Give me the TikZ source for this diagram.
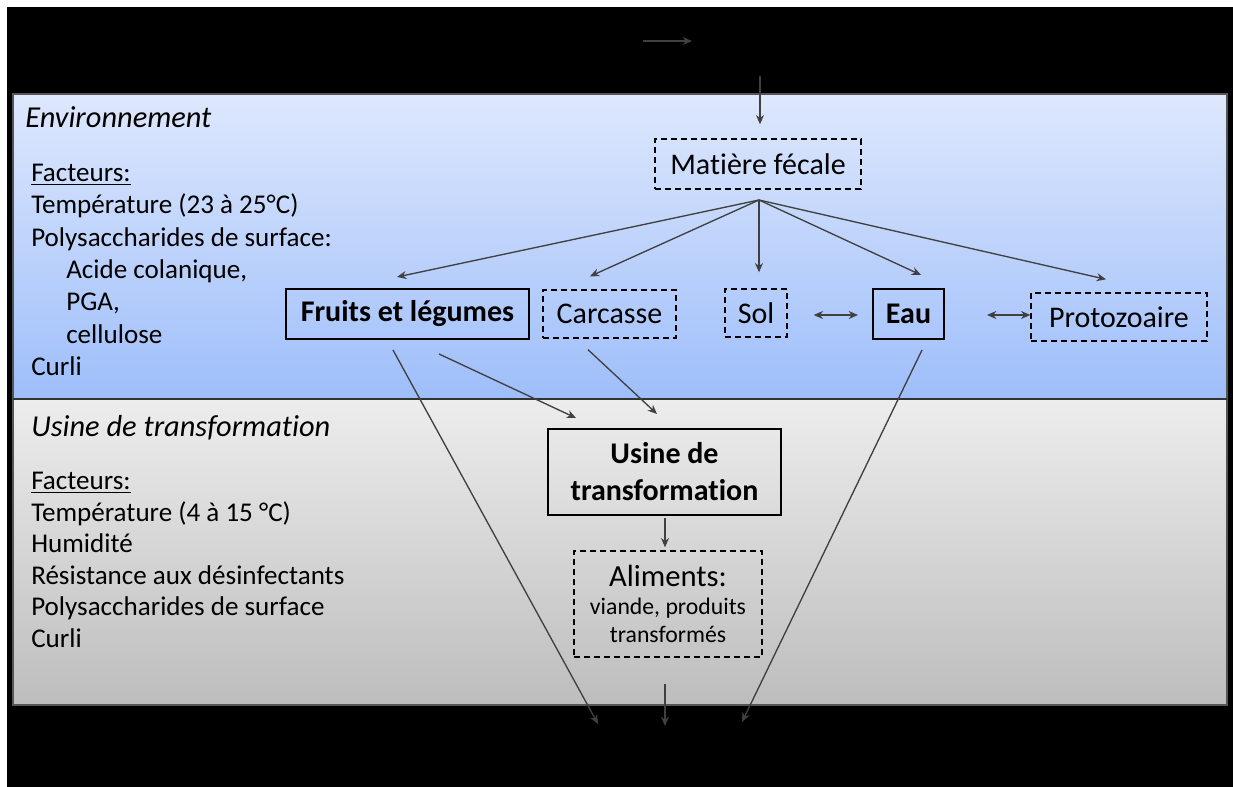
\documentclass[tikz,border=0pt]{standalone}
\usepackage{fontspec}
\setmainfont{Carlito}[Ligatures={NoCommon,NoRare,NoContextual}]
\usetikzlibrary{arrows.meta,calc}
\definecolor{arr}{HTML}{404040}
\definecolor{envtop}{HTML}{DEE8FD}
\definecolor{envbot}{HTML}{9EBEFA}
\definecolor{usitop}{HTML}{EDEDED}
\definecolor{usibot}{HTML}{BDBDBD}
\definecolor{panelline}{HTML}{555555}
\begin{document}
\begin{tikzpicture}[x=0.75pt,y=-0.75pt,
  solidbox/.style={draw=black,line width=1.5pt,inner sep=0pt,align=center},
  dashbox/.style={draw=black,line width=1pt,dash pattern=on 4.5pt off 3pt,inner sep=0pt,align=center},
  boxfont/.style={font=\fontsize{22.5}{26}\selectfont},
  boldfont/.style={font=\fontsize{22.5}{27.75}\selectfont\bfseries},
  listtext/.style={anchor=base west,inner sep=0pt,font=\fontsize{20.3}{24}\selectfont},
  titletext/.style={anchor=base west,inner sep=0pt,font=\fontsize{22.8}{26}\selectfont\itshape},
  conn/.style={draw=arr,line width=1pt,-{Stealth[length=7pt,width=6pt]}},
  dconn/.style={draw=arr,line width=1pt,{Stealth[length=7pt,width=6pt]}-{Stealth[length=7pt,width=6pt]}}]
\useasboundingbox (0,0) rectangle (1233,787);
\fill[white] (0,0) rectangle (1233,787);
\fill[black] (7,7) rectangle (1233,787);
% panels
\shade[top color=envtop,bottom color=envbot] (13,94) rectangle (1227,399);
\shade[top color=usitop,bottom color=usibot] (13,399) rectangle (1227,705);
\draw[panelline,line width=1pt] (13,94) rectangle (1227,399);
\draw[panelline,line width=1pt] (13,399) rectangle (1227,705);
\draw[black!80,line width=1pt] (13,399) -- (1227,399);

% left texts
\node[titletext] (envtitle) at (25,128) {Environnement};
\node[listtext] (envf) at (31,182) {\underline{Facteurs:}};
\node[listtext] (envt) at (31,214) {Température (23 à 25°C)};
\node[listtext] (envp) at (31,246.5) {Polysaccharides de surface:};
\node[listtext] (enva) at (66,279) {Acide colanique,};
\node[listtext] (envg) at (66,311) {PGA,};
\node[listtext] (envc) at (66,343.5) {cellulose};
\node[listtext] (envcu) at (31,375.5) {Curli};

\node[titletext] (usititle) at (31,437) {Usine de transformation};
\node[listtext] (usif) at (31,490) {\underline{Facteurs:}};
\node[listtext] (usit) at (31,521.5) {Température (4 à 15 °C)};
\node[listtext] (usih) at (31,553) {Humidité};
\node[listtext] (usir) at (31,584.5) {Résistance aux désinfectants};
\node[listtext] (usip) at (31,616) {Polysaccharides de surface};
\node[listtext] (usic) at (31,647.5) {Curli};

% boxes
\node[dashbox,boxfont,minimum width=154.5pt,minimum height=37.5pt] (mf) at (758,164) {Matière fécale};
\node[solidbox,boldfont,minimum width=182.25pt,minimum height=37.5pt] (fr) at (407.5,314) {Fruits et légumes};
\node[dashbox,boxfont,minimum width=99.75pt,minimum height=36pt] (ca) at (609.5,314) {Carcasse};
\node[dashbox,boxfont,minimum width=46.5pt,minimum height=36pt] (so) at (756,313) {Sol};
\node[solidbox,boldfont,minimum width=53.25pt,minimum height=37.5pt] (ea) at (908.5,314) {Eau};
\node[dashbox,boxfont,minimum width=132pt,minimum height=36pt] (pr) at (1119,317) {Protozoaire};
\node[solidbox,boldfont,minimum width=174.75pt,minimum height=64.5pt] (us) at (664.5,472) {Usine de\\transformation};
\node[dashbox,font=\fontsize{17.8}{21}\selectfont,minimum width=141pt,minimum height=79.5pt] (al) at (668,604) {{\fontsize{23}{21}\selectfont Aliments:}\\viande, produits\\transformés};

% free coordinates
\coordinate (topa) at (643,41);
\coordinate (topb) at (692,41);
\coordinate (src) at (760,76);
\coordinate (fan) at (759,200);
\coordinate (outl) at (598,724);
\coordinate (outm) at (665,726);
\coordinate (outr) at (742,722);

% connectors
\draw[conn] (topa) -- (topb);
\draw[conn] (src) -- ($(mf.north)+(2,-14)$);
\draw[conn] (fan) -- ($(fr.north)+(-10.5,-11)$);
\draw[conn] (fan) -- ($(ca.north)+(-19.5,-13)$);
\draw[conn] (fan) -- ($(so.north)+(3,-16)$);
\draw[conn] (fan) -- ($(ea.north)+(12.5,-13)$);
\draw[conn] (fan) -- ($(pr.north)+(-13,-13)$);
\draw[dconn] ($(so.east)+(26,2)$) -- ($(ea.west)+(-14,1)$);
\draw[dconn] ($(ea.east)+(42,1)$) -- ($(pr.west)+(0,-2)$);
\draw[conn] ($(fr.south)+(-14.5,10)$) -- (outl);
\draw[conn] ($(fr.south)+(31.5,14)$) -- ($(us.north)+(-88.5,-10)$);
\draw[conn] ($(ca.south)+(-21.5,11)$) -- ($(us.north)+(-7.5,-14)$);
\draw[conn] ($(ea.south)+(13.5,10)$) -- (outr);
\draw[conn] ($(us.south)+(0.5,2)$) -- ($(al.north)+(-3,-3)$);
\draw[conn] ($(al.south)+(-3,26)$) -- (outm);
\end{tikzpicture}
\end{document}
